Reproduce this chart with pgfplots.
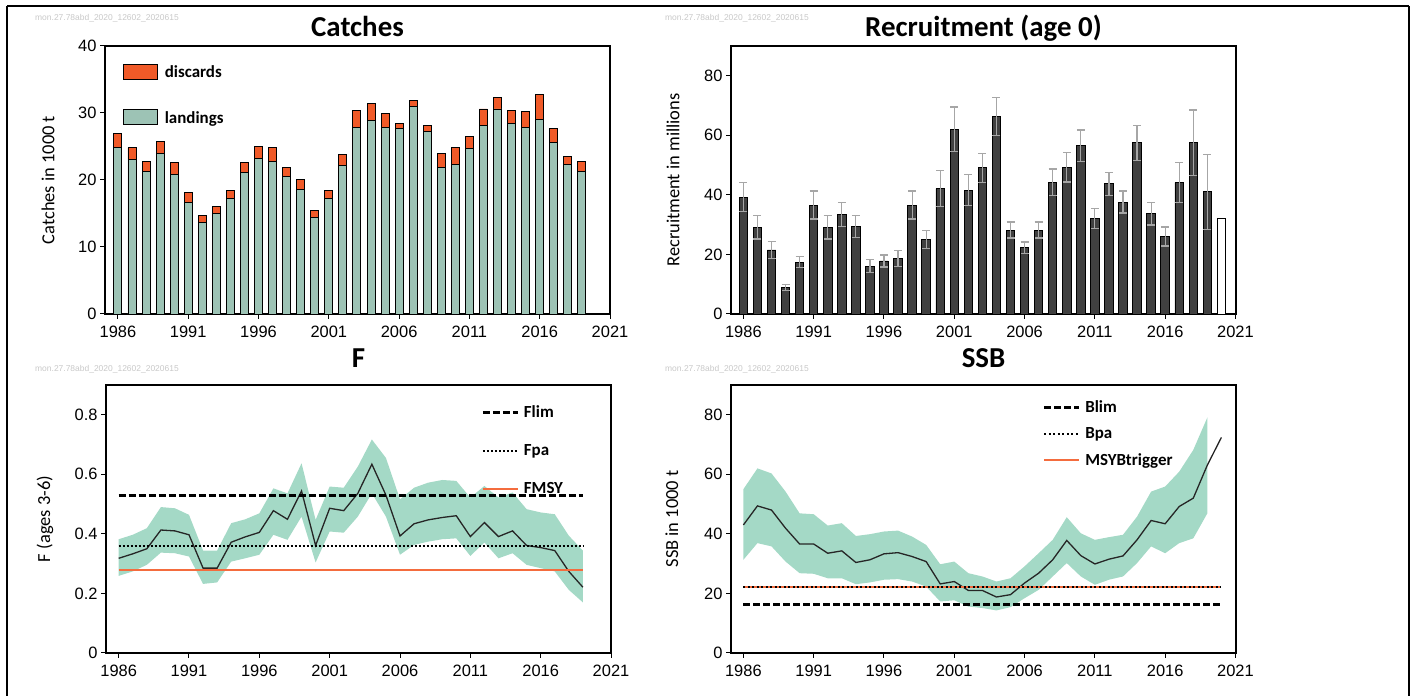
\documentclass[border=0pt]{standalone}
\usepackage{fontspec}
\setmainfont{Carlito}
\newfontfamily\tickfam{Liberation Sans}
\usepackage{pgfplots}
\pgfplotsset{compat=1.18}
\usepackage{pgfplotstable}
\usepgfplotslibrary{fillbetween}

\definecolor{landcol}{RGB}{157,195,181}
\definecolor{discol}{RGB}{240,90,40}
\definecolor{reccol}{RGB}{64,64,64}
\definecolor{bandcol}{RGB}{164,217,198}
\definecolor{refor}{RGB}{244,108,62}
\definecolor{wmcol}{RGB}{200,200,200}

\newcommand\tkfont{\tickfam\fontsize{16.5}{18}\selectfont}
\newcommand\ttlfont{\bfseries\fontsize{29}{32}\selectfont}
\newcommand\labfont{\fontsize{18.5}{20}\selectfont}
\newcommand\legfont{\bfseries\fontsize{17}{19}\selectfont}
\newcommand\wmfont{\tickfam\fontsize{8.5}{9}\selectfont}

\pgfplotstableread{
year land disc
1986 24.9 2.0
1987 23.1 1.7
1988 21.3 1.5
1989 24.0 1.7
1990 20.8 1.8
1991 16.7 1.4
1992 13.7 1.0
1993 15.0 1.1
1994 17.3 1.1
1995 21.1 1.5
1996 23.2 1.8
1997 22.8 2.0
1998 20.5 1.4
1999 18.6 1.5
2000 14.4 1.1
2001 17.3 1.1
2002 22.1 1.7
2003 27.9 2.5
2004 28.9 2.5
2005 27.9 2.0
2006 27.7 0.7
2007 31.0 0.9
2008 27.2 1.0
2009 21.8 2.2
2010 22.3 2.6
2011 24.7 1.8
2012 28.1 2.5
2013 30.6 1.7
2014 28.4 2.0
2015 27.9 2.3
2016 29.1 3.7
2017 25.6 2.1
2018 22.3 1.2
2019 21.2 1.6
}\catches

\pgfplotstableread{
year rec err
1986 39.2 4.9
1987 29.2 4.0
1988 21.5 2.8
1989 8.9 1.1
1990 17.4 1.9
1991 36.6 4.7
1992 29.2 4.0
1993 33.4 4.1
1994 29.4 3.8
1995 16.1 2.1
1996 17.8 2.0
1997 18.7 2.7
1998 36.6 4.7
1999 25.0 3.1
2000 42.1 6.0
2001 62.0 7.5
2002 41.6 5.3
2003 49.1 4.9
2004 66.4 6.4
2005 28.2 2.7
2006 22.2 2.0
2007 28.2 2.7
2008 44.3 4.4
2009 49.2 4.9
2010 56.5 5.3
2011 32.0 3.3
2012 43.7 3.8
2013 37.6 3.7
2014 57.5 5.9
2015 33.7 3.8
2016 26.0 3.2
2017 44.1 6.7
2018 57.5 11.0
2019 41.0 12.6
}\recruit

\pgfplotstableread{
year f low high
1986 0.318 0.259 0.382
1987 0.333 0.274 0.397
1988 0.350 0.296 0.419
1989 0.413 0.337 0.490
1990 0.410 0.335 0.486
1991 0.397 0.324 0.464
1992 0.285 0.232 0.344
1993 0.285 0.237 0.344
1994 0.372 0.307 0.436
1995 0.390 0.318 0.449
1996 0.405 0.330 0.469
1997 0.478 0.397 0.553
1998 0.449 0.380 0.536
1999 0.544 0.458 0.637
2000 0.361 0.304 0.447
2001 0.486 0.408 0.559
2002 0.478 0.404 0.555
2003 0.536 0.458 0.626
2004 0.634 0.536 0.717
2005 0.530 0.458 0.655
2006 0.393 0.330 0.516
2007 0.434 0.363 0.555
2008 0.447 0.374 0.572
2009 0.455 0.382 0.581
2010 0.461 0.385 0.578
2011 0.391 0.326 0.522
2012 0.438 0.371 0.561
2013 0.391 0.318 0.522
2014 0.410 0.335 0.539
2015 0.361 0.296 0.483
2016 0.354 0.285 0.472
2017 0.344 0.274 0.466
2018 0.274 0.212 0.394
2019 0.221 0.170 0.344
}\fdata

\pgfplotstableread{
year ssb low high
1986 43.0 31.3 55.0
1987 49.4 36.9 62.0
1988 48.0 35.8 60.3
1989 41.9 30.7 54.2
1990 36.6 26.8 46.9
1991 36.6 26.6 46.6
1992 33.5 25.1 42.8
1993 34.3 25.1 43.6
1994 30.4 23.1 39.3
1995 31.3 23.7 39.9
1996 33.3 24.6 40.8
1997 33.7 24.8 41.1
1998 32.4 24.0 39.1
1999 30.7 22.3 36.3
2000 23.2 17.3 29.8
2001 24.0 17.7 30.7
2002 21.0 15.6 26.8
2003 21.0 15.1 25.7
2004 18.8 14.3 24.0
2005 19.6 15.4 25.1
2006 23.5 18.4 29.1
2007 26.8 21.2 33.5
2008 31.3 25.7 38.0
2009 37.8 30.2 45.6
2010 32.7 25.7 40.2
2011 29.9 22.9 38.0
2012 31.5 24.6 38.9
2013 32.6 25.7 39.7
2014 38.0 30.2 45.8
2015 44.5 35.8 54.2
2016 43.4 33.5 55.9
2017 49.2 36.9 60.9
2018 52.0 38.5 68.2
2019 63.1 46.9 79.1
2020 72.4 72.4 72.4
}\ssbdata

\pgfplotsset{
  panel/.style={
    scale only axis, width=505bp, height=268bp, anchor=south west,
    axis line style={black, line width=1.2bp},
    tick align=outside, xtick pos=left, ytick pos=left,
    major tick length=5bp,
    every tick/.style={black, line width=1bp},
    tick label style={font=\tkfont},
    /pgf/number format/assume math mode=true,
    xtick={1986,1991,...,2021},
    xticklabel style={/pgf/number format/1000 sep={}, yshift=-4bp},
    ymin=0,
    every axis title shift=0pt,
    title style={at={(0.5,1.034)}, anchor=base, font=\ttlfont},
    ylabel style={anchor=center, font=\labfont},
    legend cell align=left,
  },
  linelegend/.style={
    legend image code/.code={\draw[##1] (0bp,0bp) -- (35bp,0bp); \path (38bp,0bp);},
    legend style={draw=none, fill=none, font=\legfont, anchor=north west,
      inner sep=0pt, nodes={inner sep=1.5bp},
      /tikz/every even column/.append style={column sep=8bp}},
  },
}

\begin{document}
\begin{tikzpicture}[x=1bp,y=1bp]

% ---------------- Catches
\begin{axis}[panel, at={(105bp,382bp)}, xmin=1985.08, xmax=2021,
  ymax=40, ytick={0,10,20,30,40},
  title={Catches},
  ylabel={Catches in 1000 t},
  ylabel style={at={(axis description cs:-0.113,0.5)}},
  ybar stacked, bar width=8bp,
  every axis plot post/.append style={
    legend image code/.code={\draw[#1] (0bp,-6.5bp) rectangle (34bp,8.5bp); \path (39bp,0bp);}},
  reverse legend,
  legend style={at={(axis description cs:0.036,0.935)}, anchor=north west,
    draw=none, fill=none, font=\legfont, inner sep=0pt, row sep=28.5bp,
    nodes={inner sep=1.5bp},
    /tikz/every even column/.append style={column sep=9bp}},
]
\addplot[fill=landcol, draw=black, line width=0.9bp] table[x=year,y=land]{\catches};
\addlegendentry{landings}
\addplot[fill=discol, draw=black, line width=0.9bp] table[x=year,y=disc]{\catches};
\addlegendentry{discards}
\end{axis}

% ---------------- Recruitment
\begin{axis}[panel, at={(731bp,382bp)}, xmin=1985.12, xmax=2021.04,
  ymax=90, ytick={0,20,40,60,80},
  title={Recruitment (age 0)},
  ylabel={Recruitment in millions},
  ylabel style={at={(axis description cs:-0.115,0.5)}},
  ybar, bar width=8.5bp,
]
\addplot[fill=reccol, draw=black, line width=0.9bp, bar shift=0pt,
  error bars/.cd, y dir=both, y explicit,
  error bar style={color=gray!70, line width=1.2bp},
  error mark options={rotate=90, color=gray!70, mark size=4bp, line width=1.2bp}]
  table[x=year, y=rec, y error=err]{\recruit};
\addplot[fill=white, draw=black, line width=0.9bp, bar shift=0pt] coordinates {(2020,32.0)};
\end{axis}

% ---------------- F
\begin{axis}[panel, linelegend, at={(106bp,43bp)}, xmin=1985.1, xmax=2021,
  ymax=0.9, ytick={0,0.2,0.4,0.6,0.8},
  yticklabel style={/pgf/number format/fixed, /pgf/number format/precision=1},
  title={F}, title style={at={(0.5,1.067)}},
  ylabel={F (ages 3-6)},
  ylabel style={at={(axis description cs:-0.121,0.5)}},
  legend style={at={(axis description cs:0.743,0.93)}, row sep=22.5bp},
]
\addplot[name path=fu, draw=none, forget plot] table[x=year,y=high]{\fdata};
\addplot[name path=fl, draw=none, forget plot] table[x=year,y=low]{\fdata};
\addplot[bandcol, forget plot] fill between[of=fu and fl];
\addplot[black!85, line width=1.3bp, forget plot] table[x=year,y=f]{\fdata};
\addplot[black, line width=3bp, dash pattern=on 7bp off 3bp] coordinates {(1986,0.53) (2019,0.53)};
\addlegendentry{Flim}
\addplot[black, line width=2bp, dash pattern=on 2bp off 2bp] coordinates {(1986,0.36) (2019,0.36)};
\addlegendentry{Fpa}
\addplot[color=refor, line width=2bp] coordinates {(1986,0.28) (2019,0.28)};
\addlegendentry{FMSY}
\end{axis}

% ---------------- SSB
\begin{axis}[panel, linelegend, at={(731bp,43bp)}, xmin=1985.12, xmax=2021.04,
  ymax=90, ytick={0,20,40,60,80},
  title={SSB}, title style={at={(0.5,1.067)}},
  ylabel={SSB in 1000 t},
  ylabel style={at={(axis description cs:-0.117,0.5)}},
  legend style={at={(axis description cs:0.617,0.948)}, row sep=10.5bp},
]
\addplot[name path=su, draw=none, forget plot, restrict x to domain=1985:2019.5] table[x=year,y=high]{\ssbdata};
\addplot[name path=sl, draw=none, forget plot, restrict x to domain=1985:2019.5] table[x=year,y=low]{\ssbdata};
\addplot[bandcol, forget plot] fill between[of=su and sl];
\addplot[black!85, line width=1.3bp, forget plot] table[x=year,y=ssb]{\ssbdata};
\addplot[color=refor, line width=2bp, forget plot] coordinates {(1986,22.1) (2020,22.1)};
\addplot[black, line width=3bp, dash pattern=on 7bp off 3bp] coordinates {(1986,16.2) (2020,16.2)};
\addlegendentry{Blim}
\addplot[black, line width=2.4bp, dash pattern=on 2bp off 2.5bp] coordinates {(1986,22.1) (2020,22.1)};
\addlegendentry{Bpa}
\addlegendimage{color=refor, line width=2bp}
\addlegendentry{MSYBtrigger}
\end{axis}

% watermarks and frame
\node[wmcol, font=\wmfont] at (107,678) {mon.27.78abd\_2020\_12602\_2020615};
\node[wmcol, font=\wmfont] at (737,678) {mon.27.78abd\_2020\_12602\_2020615};
\node[wmcol, font=\wmfont] at (107,327) {mon.27.78abd\_2020\_12602\_2020615};
\node[wmcol, font=\wmfont] at (737,327) {mon.27.78abd\_2020\_12602\_2020615};
\draw[black, line width=2bp] (7,0) -- (7,690);
\draw[black, line width=1.2bp] (7,690) -- (1409,690);
\draw[black, line width=2.5bp] (1409,690) -- (1409,0);
\path (0,0) rectangle (1416,696);
\end{tikzpicture}
\end{document}
